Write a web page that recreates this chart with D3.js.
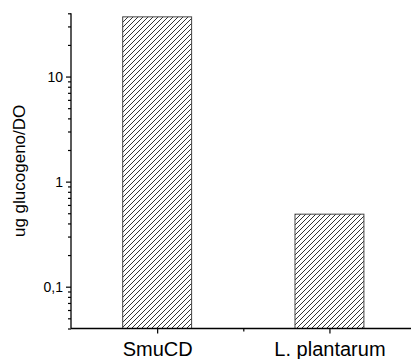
<!DOCTYPE html>
<html><head><meta charset="utf-8">
<script src="https://cdn.jsdelivr.net/npm/d3@7"></script>
<style>html,body{margin:0;padding:0;background:#fff;}svg{display:block;}</style>
</head><body>
<script>
const categories = ["SmuCD", "L. plantarum"];
const values = [37, 0.49];
const yTickValues = [0.1, 1, 10];
const yTickLabels = ["0,1", "1", "10"];
const yLabel = "ug glucogeno/DO";

const W = 411, H = 359;
const svg = d3.select("body").append("svg").attr("width", W).attr("height", H);

const defs = svg.append("defs");
const pat = defs.append("pattern").attr("id", "hatch").attr("patternUnits", "userSpaceOnUse")
  .attr("width", 5).attr("height", 5);
pat.append("rect").attr("width", 5).attr("height", 5).attr("fill", "#fff");
pat.append("path").attr("d", "M-1,1 l2,-2 M0,5 l5,-5 M4,6 l2,-2")
  .attr("stroke", "#333").attr("stroke-width", 1).attr("fill", "none");

const x0 = 71;
const xs = d3.scaleLinear().domain([0.5, 2.5]).range([x0, 415.6]);
const y = d3.scaleLog().domain([0.04, 40]).range([328.5, 13.3]);

// bars
svg.selectAll("rect.bar").data(values).enter().append("rect").attr("class", "bar")
  .attr("x", (d, i) => xs(i + 1 - 0.2))
  .attr("width", xs(1.4) - xs(1))
  .attr("y", d => y(d))
  .attr("height", d => y(0.04) - y(d))
  .attr("fill", "url(#hatch)").attr("stroke", "#444").attr("stroke-width", 1);

// y axis
const minorTicks = [];
for (let e = -2; e <= 1; e++) for (let m = 1; m <= 9; m++) {
  const v = m * Math.pow(10, e);
  if (v >= 0.04 - 1e-9 && v <= 40 + 1e-9 && m !== 1) minorTicks.push(v);
}
const yAxisMinor = d3.axisLeft(y).tickValues(minorTicks).tickSize(3).tickFormat("");
const gyMinor = svg.append("g").attr("transform", `translate(${x0},0)`).call(yAxisMinor);
gyMinor.select(".domain").remove();
const yAxis = d3.axisLeft(y).tickValues(yTickValues).tickSize(5).tickPadding(3)
  .tickFormat((d, i) => yTickLabels[i]);
const gy = svg.append("g").attr("transform", `translate(${x0},0)`).call(yAxis);
gy.select(".domain").attr("d", `M0,${y(40)}V${y(0.04)}`);
gy.selectAll("text").attr("font-family", "Arial, 'Liberation Sans', sans-serif").attr("font-size", 14).attr("fill", "#000");
gy.select(".domain").attr("stroke-width", 1.3);

// x axis
const xAxisMinor = d3.axisBottom(xs).tickValues([1.5]).tickSize(3).tickFormat("");
const gxMinor = svg.append("g").attr("transform", `translate(0,${y(0.04)})`).call(xAxisMinor);
gxMinor.select(".domain").remove();
const xAxis = d3.axisBottom(xs).tickValues([1, 2]).tickSize(5).tickPadding(8)
  .tickFormat((d, i) => categories[i]);
const gx = svg.append("g").attr("transform", `translate(0,${y(0.04)})`).call(xAxis);
gx.select(".domain").attr("d", `M${x0},0H415.6`).attr("stroke-width", 1.3);
gx.selectAll("text").attr("font-family", "Arial, 'Liberation Sans', sans-serif").attr("font-size", 20).attr("fill", "#000");
svg.selectAll("g.tick line").attr("stroke", "#000").attr("stroke-width", 1.2);

// y label
svg.append("text").attr("transform", `translate(25,${(y(40) + y(0.04)) / 2}) rotate(-90)`)
  .attr("text-anchor", "middle").attr("font-family", "Arial, 'Liberation Sans', sans-serif")
  .attr("font-size", 17).attr("fill", "#000").text(yLabel);
</script>
</body></html>
